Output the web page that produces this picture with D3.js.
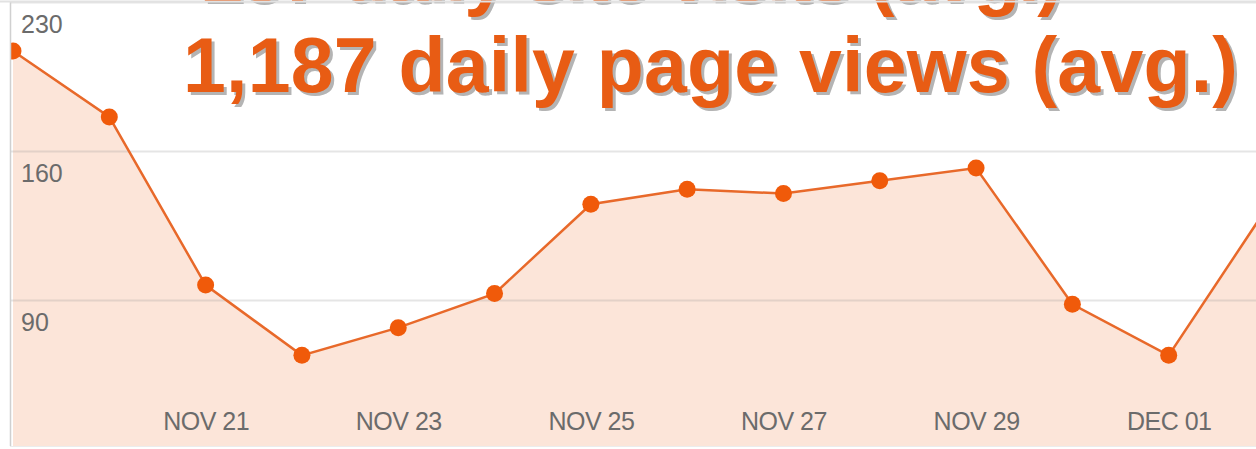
<!DOCTYPE html>
<html>
<head>
<meta charset="utf-8">
<script src="https://cdn.jsdelivr.net/npm/d3@7"></script>
<style>
  html, body { margin: 0; padding: 0; background: #fff; }
  svg { display: block; }
</style>
</head>
<body>
<div id="chart"></div>
<script>
// daily page views, one point per day
const dates = ["2009-11-19", "2009-11-20", "2009-11-21", "2009-11-22", "2009-11-23", "2009-11-24", "2009-11-25",
               "2009-11-26", "2009-11-27", "2009-11-28", "2009-11-29", "2009-11-30", "2009-12-01", "2009-12-02"];
const views = [207, 176, 97, 64, 77, 93, 135, 142, 140, 146, 152, 88, 64, 132];
const yTicks = [90, 160, 230];
const xTicks = ["2009-11-21", "2009-11-23", "2009-11-25", "2009-11-27", "2009-11-29", "2009-12-01"];
const titleLines = ["157 daily site visits (avg.)", "1,187 daily page views (avg.)"];

const W = 1256, H = 449;
const plot = { left: 10, top: 2, right: 1256, bottom: 446 };
const colors = {
  line: "#e8692a",
  dot: "#f05a0a",
  fill: "#fce5d9",
  grid: "rgba(150,150,150,0.25)",
  tick: "#6b6b6b",
  title: "#e85c14",
  shadow: "#b4b4b4",
};

const parse = d3.timeParse("%Y-%m-%d");
const data = dates.map((d, i) => ({ date: parse(d), v: views[i] }));

const svg = d3.select("#chart").append("svg").attr("width", W).attr("height", H);

const x = d3.scaleTime()
  .domain([parse(dates[0]), parse(dates[dates.length - 1])])
  .range([13, 1265]);
const y = d3.scaleLinear().domain([90, 160]).range([300, 151]);

svg.append("defs").append("clipPath").attr("id", "plotClip")
  .append("rect").attr("x", plot.left).attr("y", plot.top)
  .attr("width", plot.right - plot.left).attr("height", plot.bottom - plot.top);

const g = svg.append("g").attr("clip-path", "url(#plotClip)");

const area = d3.area().x(d => x(d.date)).y0(plot.bottom).y1(d => y(d.v));
const line = d3.line().x(d => x(d.date)).y(d => y(d.v));

g.append("path").datum(data).attr("d", area).attr("fill", colors.fill);

// gridlines
g.selectAll("line.grid").data(yTicks).join("line")
  .attr("class", "grid")
  .attr("x1", plot.left).attr("x2", plot.right)
  .attr("y1", d => y(d) + 0.5).attr("y2", d => y(d) + 0.5)
  .attr("stroke", colors.grid).attr("stroke-width", 2);

g.append("path").datum(data).attr("d", line)
  .attr("fill", "none").attr("stroke", colors.line).attr("stroke-width", 2.5);

g.selectAll("circle").data(data).join("circle")
  .attr("cx", d => x(d.date)).attr("cy", d => y(d.v)).attr("r", 8.5)
  .attr("fill", colors.dot);

// frame
svg.append("line").attr("x1", plot.left + 0.5).attr("x2", plot.left + 0.5)
  .attr("y1", plot.top).attr("y2", plot.bottom)
  .attr("stroke", "#d0d0d0").attr("stroke-width", 1.5);
svg.append("line").attr("x1", plot.left).attr("x2", plot.right)
  .attr("y1", plot.bottom + 0.5).attr("y2", plot.bottom + 0.5)
  .attr("stroke", "#ececec").attr("stroke-width", 1);

// y labels (sit just below their gridlines)
svg.selectAll("text.ylab").data(yTicks).join("text")
  .attr("class", "ylab")
  .attr("x", 21).attr("y", d => y(d) + 31)
  .attr("font-family", "Liberation Sans, Arial, sans-serif")
  .attr("font-size", 25).attr("fill", colors.tick)
  .text(d => d);

// x axis labels
const xAxis = d3.axisBottom(x)
  .tickValues(xTicks.map(parse))
  .tickSize(0)
  .tickFormat(d => d3.timeFormat("%b %d")(d).toUpperCase());
const gx = svg.append("g").attr("transform", "translate(0,409)").call(xAxis);
gx.select(".domain").remove();
gx.selectAll("text")
  .attr("font-family", "Liberation Sans, Arial, sans-serif")
  .attr("font-size", 25).attr("fill", colors.tick)
  .attr("letter-spacing", -0.5);

// headline text with drop shadow
const tx = [200, 183], ty = [1, 92], tlen = [863, 1055];
titleLines.forEach((t, i) => {
  [[3, 3, colors.shadow], [0, 0, colors.title]].forEach(([dx, dy, c]) => {
    svg.append("text")
      .attr("x", tx[i] + dx).attr("y", ty[i] + dy)
      .attr("font-family", "Liberation Sans, Arial, sans-serif")
      .attr("font-weight", "bold").attr("font-size", 77)
      .attr("textLength", tlen[i]).attr("lengthAdjust", "spacing")
      .attr("fill", c).text(t);
  });
});

// top border over everything
svg.append("line").attr("x1", 0).attr("x2", W).attr("y1", 1.5).attr("y2", 1.5)
  .attr("stroke", "#e2e2e2").attr("stroke-width", 2);
</script>
</body>
</html>
